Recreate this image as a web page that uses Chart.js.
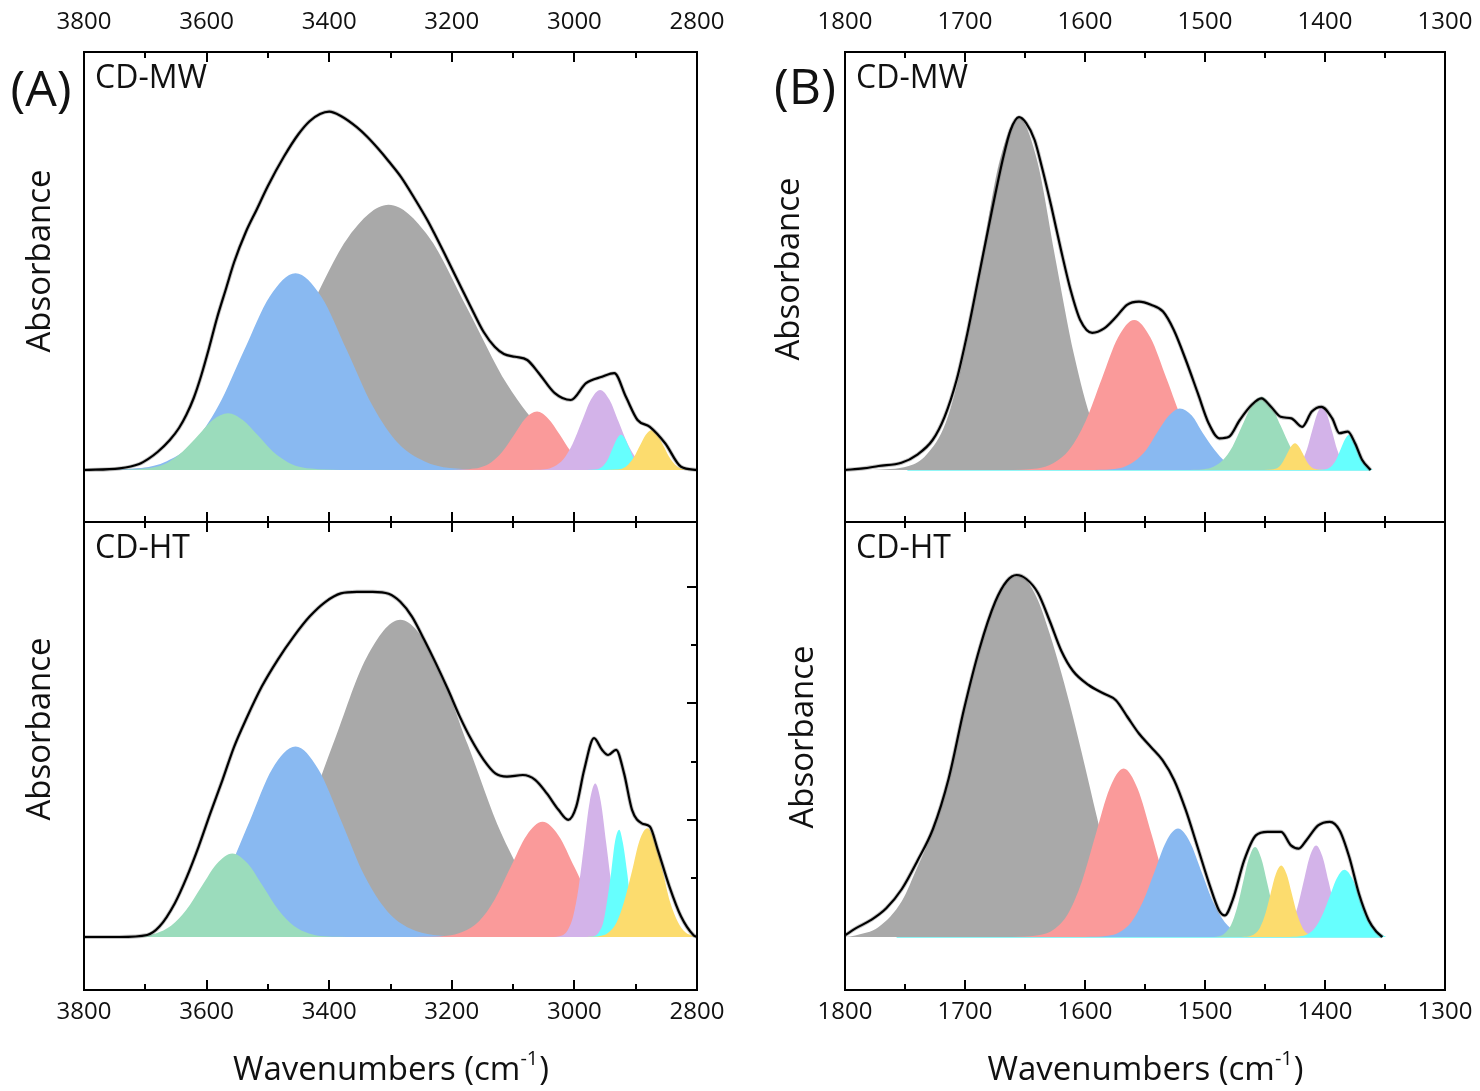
<!DOCTYPE html>
<html>
<head>
<meta charset="utf-8">
<title>FTIR peak fitting</title>
<script src="https://cdn.jsdelivr.net/npm/chart.js@4.4.1/dist/chart.umd.min.js"></script>
<style>
  html, body { margin: 0; padding: 0; background: #fff; }
  #wrap { position: relative; width: 1480px; height: 1091px; }
  #wrap canvas { position: absolute; left: 0; top: 0; }
</style>
</head>
<body>
<div id="wrap">
  <canvas id="aTop" width="1480" height="1091"></canvas>
  <canvas id="aBot" width="1480" height="1091"></canvas>
  <canvas id="bTop" width="1480" height="1091"></canvas>
  <canvas id="bBot" width="1480" height="1091"></canvas>
</div>
<script>
// ---------- tick values ----------
const aTickLabels = [3800, 3600, 3400, 3200, 3000, 2800];
const aMinorTicks = [3700, 3500, 3300, 3100, 2900];
const bTickLabels = [1800, 1700, 1600, 1500, 1400, 1300];
const bMinorTicks = [1750, 1650, 1550, 1450, 1350];
const aBotYMajor = [0.2925, 0.585, 0.875];
const aBotYMinor = [0.1475, 0.4375, 0.73];

// ---------- (A) CD-MW : [wavenumber, absorbance] ----------
const aTopTotal = [[3800,0],[3742,0.004],[3710,0.015],[3695,0.028],[3680,0.045],[3660,0.075],[3645,0.105],[3633,0.138],[3621,0.18],[3609,0.235],[3596,0.305],[3583,0.38],[3569,0.45],[3555,0.52],[3536,0.595],[3518,0.652],[3500,0.71],[3474,0.783],[3450,0.84],[3432,0.872],[3415,0.89],[3400,0.896],[3381,0.885],[3355,0.857],[3338,0.833],[3320,0.803],[3303,0.772],[3283,0.733],[3260,0.677],[3240,0.625],[3229,0.593],[3210,0.535],[3185,0.457],[3165,0.395],[3148,0.345],[3130,0.308],[3115,0.29],[3097,0.283],[3077,0.275],[3058,0.242],[3032,0.192],[3006,0.175],[2981,0.217],[2955,0.233],[2935,0.242],[2916,0.183],[2897,0.125],[2877,0.108],[2852,0.067],[2826,0.008],[2800,0]];
const aTopGray = [[3800,0],[3690,0.007],[3626,0.029],[3561,0.089],[3497,0.215],[3432,0.402],[3368,0.584],[3303,0.663],[3238,0.584],[3174,0.402],[3110,0.215],[3045,0.089],[2981,0.029],[2916,0.007],[2800,0]];
const aTopBlue = [[3791,0],[3707,0.005],[3665,0.022],[3623,0.066],[3581,0.16],[3539,0.299],[3497,0.434],[3455,0.492],[3413,0.434],[3371,0.299],[3329,0.16],[3287,0.066],[3245,0.022],[3203,0.005],[3119,0]];
const aTopGreen = [[3761,0],[3712,0.002],[3688,0.006],[3663,0.019],[3639,0.046],[3614,0.086],[3590,0.125],[3565,0.142],[3541,0.125],[3516,0.086],[3492,0.046],[3467,0.019],[3443,0.006],[3418,0.002],[3369,0]];
const aTopRed = [[3209,0],[3172,0.002],[3154,0.006],[3135,0.02],[3117,0.047],[3098,0.089],[3080,0.129],[3061,0.146],[3043,0.129],[3024,0.089],[3006,0.047],[2987,0.02],[2969,0.006],[2950,0.002],[2913,0]];
const aTopPurple = [[3078,0],[3048,0.002],[3033,0.009],[3018,0.027],[3003,0.065],[2988,0.121],[2973,0.176],[2958,0.2],[2943,0.176],[2928,0.121],[2913,0.065],[2898,0.027],[2883,0.009],[2868,0.002],[2838,0]];
const aTopCyan = [[2980,0],[2966,0.001],[2959,0.004],[2952,0.012],[2945,0.028],[2938,0.053],[2931,0.077],[2924,0.088],[2917,0.077],[2910,0.053],[2903,0.028],[2896,0.012],[2889,0.004],[2882,0.001],[2868,0]];
const aTopYellow = [[2950,0],[2931,0.001],[2921.5,0.004],[2912,0.014],[2902.5,0.033],[2893,0.061],[2883.5,0.088],[2874,0.1],[2864.5,0.088],[2855,0.061],[2845.5,0.033],[2836,0.014],[2826.5,0.004],[2817,0.001],[2800,0]];

// ---------- (A) CD-HT ----------
const aBotTotal = [[3800,0],[3742,0],[3697,0.005],[3677,0.026],[3652,0.084],[3632,0.151],[3613,0.226],[3594,0.309],[3574,0.393],[3555,0.476],[3536,0.543],[3510,0.626],[3484,0.693],[3458,0.751],[3432,0.801],[3406,0.838],[3381,0.859],[3355,0.863],[3329,0.863],[3303,0.858],[3284,0.838],[3265,0.801],[3245,0.743],[3226,0.684],[3206,0.618],[3187,0.551],[3168,0.493],[3148,0.443],[3129,0.409],[3110,0.401],[3084,0.405],[3064,0.393],[3045,0.359],[3026,0.318],[3010,0.293],[2997,0.326],[2984,0.418],[2968,0.497],[2955,0.468],[2945,0.455],[2932,0.468],[2919,0.409],[2906,0.318],[2890,0.284],[2877,0.276],[2864,0.218],[2845,0.126],[2826,0.051],[2806,0.005],[2800,0]];
const aBotGray = [[3724,0],[3614,0.009],[3559,0.035],[3504,0.107],[3449,0.258],[3394,0.481],[3339,0.699],[3284,0.793],[3229,0.699],[3174,0.481],[3119,0.258],[3064,0.107],[3009,0.035],[2954,0.009],[2844,0]];
const aBotBlue = [[3755,0],[3680,0.005],[3643,0.021],[3605,0.064],[3568,0.155],[3530,0.289],[3493,0.42],[3455,0.476],[3418,0.42],[3380,0.289],[3343,0.155],[3305,0.064],[3268,0.021],[3230,0.005],[3155,0]];
const aBotGreen = [[3758,0],[3708,0.002],[3683,0.009],[3658,0.028],[3633,0.068],[3608,0.127],[3583,0.184],[3558,0.209],[3533,0.184],[3508,0.127],[3483,0.068],[3458,0.028],[3433,0.009],[3408,0.002],[3358,0]];
const aBotRed = [[3260,0],[3208,0.003],[3182,0.013],[3156,0.039],[3130,0.094],[3104,0.175],[3078,0.254],[3052,0.288],[3026,0.254],[3000,0.175],[2974,0.094],[2948,0.039],[2922,0.013],[2896,0.003],[2844,0]];
const aBotPurple = [[3038,0],[3020,0.004],[3011,0.017],[3002,0.052],[2993,0.125],[2984,0.233],[2975,0.339],[2966,0.384],[2957,0.339],[2948,0.233],[2939,0.125],[2930,0.052],[2921,0.017],[2912,0.004],[2894,0]];
const aBotCyan = [[2979,0],[2966,0.003],[2960,0.012],[2953,0.036],[2947,0.087],[2940,0.162],[2934,0.236],[2927,0.268],[2921,0.236],[2914,0.162],[2908,0.087],[2901,0.036],[2895,0.012],[2888,0.003],[2875,0]];
const aBotYellow = [[2981,0],[2956,0.003],[2944,0.012],[2931,0.037],[2919,0.088],[2906,0.165],[2894,0.24],[2881,0.272],[2869,0.24],[2856,0.165],[2844,0.088],[2831,0.037],[2819,0.012],[2806,0.003],[2800,0.001]];

// ---------- (B) CD-MW ----------
const bTopTotal = [[1800,0],[1785,0.004],[1772,0.01],[1753,0.018],[1740,0.038],[1727,0.075],[1717,0.133],[1707,0.225],[1698,0.342],[1688,0.492],[1678,0.642],[1668,0.783],[1662,0.85],[1655,0.882],[1649,0.867],[1642,0.825],[1636,0.758],[1628,0.658],[1620,0.55],[1612,0.45],[1604,0.375],[1594,0.343],[1584,0.354],[1574,0.383],[1565,0.413],[1555,0.421],[1545,0.413],[1535,0.396],[1526,0.35],[1516,0.275],[1506,0.192],[1497,0.117],[1488,0.079],[1480,0.083],[1471,0.125],[1461,0.163],[1453,0.179],[1445,0.158],[1437,0.133],[1428,0.129],[1419,0.108],[1411,0.146],[1403,0.158],[1394,0.129],[1388,0.092],[1381,0.096],[1375,0.067],[1369,0.025],[1362,0]];
const bTopGray = [[1777,0],[1747,0.01],[1732,0.039],[1716,0.119],[1701,0.286],[1686,0.534],[1671,0.775],[1655,0.879],[1640,0.775],[1625,0.534],[1609,0.286],[1594,0.119],[1579,0.039],[1564,0.01],[1533,0]];
const bTopRed = [[1667,0],[1640,0.004],[1626.5,0.017],[1613,0.051],[1599.5,0.122],[1586,0.228],[1572.5,0.331],[1559,0.375],[1545.5,0.331],[1532,0.228],[1518.5,0.122],[1505,0.051],[1491.5,0.017],[1478,0.004],[1451,0]];
const bTopBlue = [[1597,0],[1578,0.002],[1568,0.007],[1559,0.021],[1549,0.05],[1540,0.093],[1530,0.136],[1521,0.154],[1511,0.136],[1502,0.093],[1492,0.05],[1483,0.021],[1473,0.007],[1464,0.002],[1445,0]];
const bTopGreen = [[1517,0],[1501,0.002],[1493,0.008],[1485,0.025],[1477,0.059],[1469,0.111],[1461,0.161],[1453,0.183],[1445,0.161],[1437,0.111],[1429,0.059],[1421,0.025],[1413,0.008],[1405,0.002],[1389,0]];
const bTopYellow = [[1451,0],[1444.5,0.001],[1441.3,0.003],[1438,0.009],[1434.8,0.022],[1431.5,0.041],[1428.3,0.059],[1425,0.067],[1421.8,0.059],[1418.5,0.041],[1415.3,0.022],[1412,0.009],[1408.8,0.003],[1405.5,0.001],[1399,0]];
const bTopPurple = [[1436.1,0],[1427.7,0.002],[1423.5,0.007],[1419.3,0.021],[1415.1,0.051],[1410.9,0.096],[1406.7,0.139],[1402.5,0.158],[1398.3,0.139],[1394.1,0.096],[1389.9,0.051],[1385.7,0.021],[1381.5,0.007],[1377.3,0.002],[1368.9,0]];
const bTopCyan = [[1407.8,0],[1400.8,0.001],[1397.3,0.004],[1393.8,0.012],[1390.3,0.028],[1386.8,0.053],[1383.3,0.077],[1379.8,0.088],[1376.3,0.077],[1372.8,0.053],[1369.3,0.028],[1365.8,0.012],[1362.3,0.004],[1360,0]];
const bTopBase = [[1748,0],[1362,0]];

// ---------- (B) CD-HT ----------
const bBotTotal = [[1800,0.004],[1791.5,0.021],[1778.6,0.042],[1765.6,0.072],[1752.6,0.12],[1739.7,0.19],[1726.7,0.27],[1713.7,0.395],[1700.8,0.57],[1687.8,0.722],[1674.8,0.838],[1665.1,0.89],[1657,0.905],[1648.9,0.895],[1639.2,0.86],[1629.4,0.79],[1619.7,0.715],[1610,0.665],[1597,0.63],[1584,0.608],[1574.3,0.592],[1564.6,0.55],[1554.9,0.508],[1545.1,0.475],[1535.4,0.442],[1525.7,0.392],[1516,0.317],[1506.2,0.225],[1496.5,0.133],[1488.4,0.067],[1483.5,0.054],[1477,0.092],[1467.3,0.192],[1457.6,0.254],[1447.9,0.263],[1436.5,0.263],[1428.4,0.229],[1421.9,0.221],[1415.5,0.242],[1405.7,0.279],[1396,0.288],[1387.9,0.267],[1379.8,0.2],[1371.7,0.108],[1363.6,0.042],[1357.1,0.013],[1352.2,0]];
const bBotGray = [[1800,0],[1791.5,0.004],[1772,0.025],[1752.6,0.09],[1739.7,0.175],[1726.7,0.265],[1713.7,0.39],[1700.8,0.565],[1687.8,0.717],[1674.8,0.833],[1665.1,0.888],[1657,0.904],[1648.9,0.892],[1639.2,0.842],[1629.4,0.758],[1619.7,0.66],[1610,0.55],[1600.3,0.43],[1590.5,0.305],[1580.8,0.19],[1571.1,0.1],[1558.1,0.033],[1538.7,0.004],[1512.7,0]];
const bBotRed = [[1661,0],[1637.7,0.005],[1626,0.019],[1614.4,0.057],[1602.8,0.137],[1591.1,0.256],[1579.5,0.371],[1567.8,0.421],[1556.2,0.371],[1544.5,0.256],[1532.9,0.137],[1521.2,0.057],[1509.6,0.019],[1497.9,0.005],[1474.6,0]];
const bBotBlue = [[1600.5,0],[1581,0.003],[1571.3,0.012],[1561.5,0.037],[1551.8,0.088],[1542,0.164],[1532.3,0.239],[1522.5,0.271],[1512.8,0.239],[1503,0.164],[1493.3,0.088],[1483.5,0.037],[1473.8,0.012],[1464,0.003],[1444.5,0]];
const bBotGreen = [[1498.3,0],[1488.3,0.002],[1483.3,0.01],[1478.3,0.03],[1473.3,0.073],[1468.3,0.137],[1463.3,0.198],[1458.3,0.225],[1453.3,0.198],[1448.3,0.137],[1443.3,0.073],[1438.3,0.03],[1433.3,0.01],[1428.3,0.002],[1418.3,0]];
const bBotYellow = [[1471.7,0],[1462.9,0.002],[1458.5,0.008],[1454.1,0.024],[1449.7,0.058],[1445.3,0.109],[1440.9,0.158],[1436.5,0.179],[1432.1,0.158],[1427.7,0.109],[1423.3,0.058],[1418.9,0.024],[1414.5,0.008],[1410.1,0.002],[1401.3,0]];
const bBotPurple = [[1449,0],[1438.6,0.003],[1433.4,0.01],[1428.2,0.031],[1423,0.074],[1417.8,0.139],[1412.6,0.202],[1407.4,0.229],[1402.2,0.202],[1397,0.139],[1391.8,0.074],[1386.6,0.031],[1381.4,0.01],[1376.2,0.003],[1365.8,0]];
const bBotCyan = [[1432.9,0],[1420.6,0.002],[1414.5,0.007],[1408.3,0.023],[1402.2,0.055],[1396,0.102],[1389.9,0.148],[1383.7,0.168],[1377.6,0.148],[1371.4,0.102],[1365.3,0.055],[1359.1,0.023],[1353,0.007],[1349,0]];
const bBotBase = [[1757,0],[1352,0]];

// ---------- styling ----------
const FONT = '"Open Sans", "Noto Sans", sans-serif';
const COLORS = {
    gray: '#a9a9a9',
    blue: '#89b9f1',
    green: '#9bdcbc',
    red: '#fa9a9a',
    purple: '#d3b3e9',
    cyan: '#66fffe',
    yellow: '#fcdc6e'
};

function pts(arr) {
    return arr.map(p => ({ x: p[0], y: p[1] }));
}

function peak(arr, color) {
    return { data: pts(arr), backgroundColor: color, borderWidth: 0, fill: 'origin' };
}

function baseLine(arr, color) {
    return { data: pts(arr), borderColor: color, borderWidth: 2, fill: false };
}

// fitted envelope in black over the measured spectrum (gray halo)
function envelope(arr) {
    return [
        { data: pts(arr), borderColor: '#000', borderWidth: 2.2, fill: false },
        { data: pts(arr), borderColor: 'rgba(120,120,120,0.45)', borderWidth: 4, fill: false }
    ];
}

function drawXTitle(ctx, cx, cy) {
    const main = 'Wavenumbers (cm', sup = '-1', tail = ')';
    ctx.textAlign = 'left';
    ctx.textBaseline = 'middle';
    ctx.font = '33px ' + FONT;
    const w1 = ctx.measureText(main).width;
    const w3 = ctx.measureText(tail).width;
    ctx.font = '20px ' + FONT;
    const w2 = ctx.measureText(sup).width;
    const x0 = cx - (w1 + w2 + w3) / 2;
    ctx.font = '33px ' + FONT;
    ctx.fillText(main, x0, cy);
    ctx.fillText(tail, x0 + w1 + w2 + 1, cy);
    ctx.font = '20px ' + FONT;
    ctx.fillText(sup, x0 + w1, cy - 12);
}

// frame, inward ticks, tick labels and titles for one panel
function decor(o) {
    return {
        id: 'decor',
        afterDatasetsDraw(chart) {
            const ctx = chart.ctx;
            const a = chart.chartArea;
            const x = chart.scales.x, y = chart.scales.y;
            ctx.save();
            ctx.strokeStyle = '#000';
            ctx.lineWidth = 2;
            const tick = (v, len) => {
                const px = Math.round(x.getPixelForValue(v));
                ctx.beginPath();
                ctx.moveTo(px, a.top); ctx.lineTo(px, a.top + len);
                ctx.moveTo(px, a.bottom); ctx.lineTo(px, a.bottom - len);
                ctx.stroke();
            };
            o.major.forEach(v => tick(v, 10));
            o.minor.forEach(v => tick(v, 6));
            if (o.yMajor) {
                const ytick = (v, len) => {
                    const py = Math.round(y.getPixelForValue(v));
                    ctx.beginPath();
                    ctx.moveTo(a.right, py); ctx.lineTo(a.right - len, py);
                    ctx.stroke();
                };
                o.yMajor.forEach(v => ytick(v, 10));
                o.yMinor.forEach(v => ytick(v, 6));
            }
            ctx.strokeRect(a.left, a.top, a.right - a.left, a.bottom - a.top);

            ctx.fillStyle = '#111';
            ctx.textAlign = 'center';
            ctx.textBaseline = 'middle';
            ctx.font = '24px ' + FONT;
            o.labels.forEach(v => {
                const ly = o.labelsTop ? a.top - 30 : a.bottom + 22;
                ctx.fillText(String(v), x.getPixelForValue(v), ly);
            });

            // panel name
            ctx.textAlign = 'left';
            ctx.font = '32px ' + FONT;
            ctx.fillText(o.name, a.left + 11, a.top + 27);

            // y title
            ctx.save();
            ctx.translate(o.absX, o.absY);
            ctx.rotate(-Math.PI / 2);
            ctx.textAlign = 'center';
            ctx.font = '33px ' + FONT;
            ctx.fillText('Absorbance', 0, 0);
            ctx.restore();

            if (o.letter) {
                ctx.textAlign = 'center';
                ctx.font = '50px ' + FONT;
                ctx.fillText(o.letter, o.letterX, o.letterY);
            }
            if (o.xTitle) drawXTitle(ctx, (a.left + a.right) / 2, 1071);
            ctx.restore();
        }
    };
}

function makePanel(id, datasets, o) {
    return new Chart(document.getElementById(id), {
        type: 'line',
        data: { datasets: datasets },
        options: {
            responsive: false,
            animation: false,
            events: [],
            layout: { padding: o.padding },
            elements: {
                point: { radius: 0 },
                line: { cubicInterpolationMode: 'monotone' }
            },
            plugins: { legend: { display: false }, tooltip: { enabled: false } },
            scales: {
                x: { type: 'linear', reverse: true, min: o.xMin, max: o.xMax, display: false },
                y: { type: 'linear', min: o.yMin, max: o.yMax, display: false }
            }
        },
        plugins: [decor(o)]
    });
}

// ---------- panels ----------
makePanel('aTop', [
    ...envelope(aTopTotal),
    peak(aTopYellow, COLORS.yellow),
    peak(aTopCyan, COLORS.cyan),
    peak(aTopPurple, COLORS.purple),
    peak(aTopRed, COLORS.red),
    peak(aTopGreen, COLORS.green),
    peak(aTopBlue, COLORS.blue),
    peak(aTopGray, COLORS.gray)
], {
    padding: { left: 84, top: 52, right: 783, bottom: 569 },
    xMin: 2800, xMax: 3800, yMin: -0.13, yMax: 1.045,
    major: aTickLabels, minor: aMinorTicks, labels: aTickLabels, labelsTop: true,
    name: 'CD-MW', absX: 41, absY: 261, letter: '(A)', letterX: 41, letterY: 92
});

makePanel('aBot', [
    ...envelope(aBotTotal),
    peak(aBotYellow, COLORS.yellow),
    peak(aBotCyan, COLORS.cyan),
    peak(aBotPurple, COLORS.purple),
    peak(aBotRed, COLORS.red),
    peak(aBotGreen, COLORS.green),
    peak(aBotBlue, COLORS.blue),
    peak(aBotGray, COLORS.gray)
], {
    padding: { left: 84, top: 522, right: 783, bottom: 101 },
    xMin: 2800, xMax: 3800, yMin: -0.1325, yMax: 1.0375,
    major: aTickLabels, minor: aMinorTicks, labels: aTickLabels, labelsTop: false,
    yMajor: aBotYMajor, yMinor: aBotYMinor,
    name: 'CD-HT', absX: 41, absY: 729, xTitle: true
});

makePanel('bTop', [
    ...envelope(bTopTotal),
    peak(bTopCyan, COLORS.cyan),
    peak(bTopYellow, COLORS.yellow),
    peak(bTopPurple, COLORS.purple),
    peak(bTopGreen, COLORS.green),
    peak(bTopBlue, COLORS.blue),
    peak(bTopRed, COLORS.red),
    peak(bTopGray, COLORS.gray),
    baseLine(bTopBase, '#8ff6f6')
], {
    padding: { left: 845, top: 52, right: 35, bottom: 569 },
    xMin: 1300, xMax: 1800, yMin: -0.13, yMax: 1.045,
    major: bTickLabels, minor: bMinorTicks, labels: bTickLabels, labelsTop: true,
    name: 'CD-MW', absX: 790, absY: 269, letter: '(B)', letterX: 805, letterY: 90
});

makePanel('bBot', [
    ...envelope(bBotTotal),
    peak(bBotCyan, COLORS.cyan),
    peak(bBotYellow, COLORS.yellow),
    peak(bBotPurple, COLORS.purple),
    peak(bBotGreen, COLORS.green),
    peak(bBotBlue, COLORS.blue),
    peak(bBotRed, COLORS.red),
    peak(bBotGray, COLORS.gray),
    baseLine(bBotBase, '#8ff6f6')
], {
    padding: { left: 845, top: 522, right: 35, bottom: 101 },
    xMin: 1300, xMax: 1800, yMin: -0.1325, yMax: 1.0375,
    major: bTickLabels, minor: bMinorTicks, labels: bTickLabels, labelsTop: false,
    name: 'CD-HT', absX: 804, absY: 737, xTitle: true
});
</script>
</body>
</html>
